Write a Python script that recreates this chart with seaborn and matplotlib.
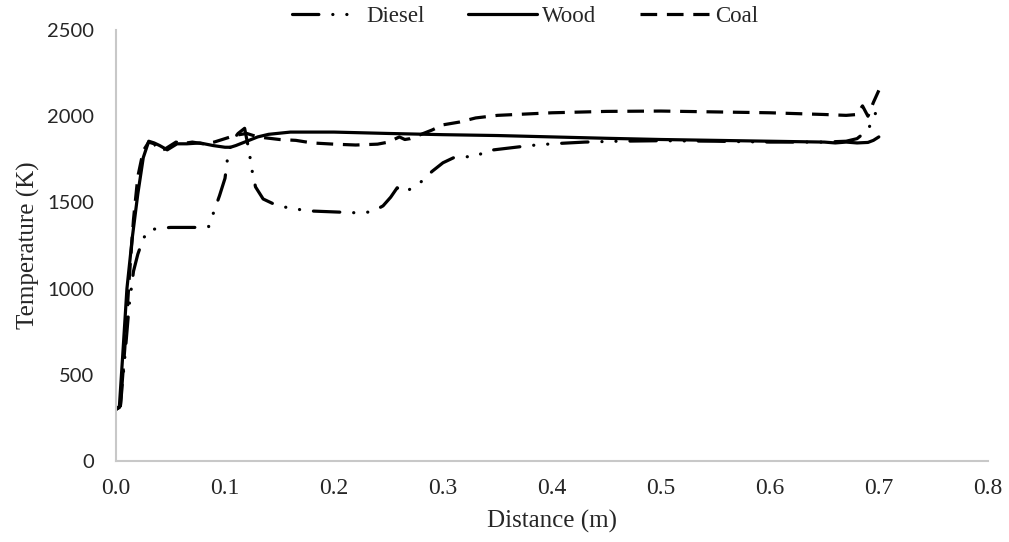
import numpy as np
import pandas as pd
import matplotlib
matplotlib.use("Agg")
import matplotlib.pyplot as plt
import seaborn as sns

# ---- data ----
diesel_x = [0, 0.004, 0.008, 0.012, 0.016, 0.02, 0.025, 0.03, 0.04, 0.05, 0.06, 0.07, 0.08,
            0.085, 0.09, 0.095, 0.1, 0.103, 0.107, 0.112, 0.118, 0.122, 0.125, 0.128, 0.135,
            0.145, 0.16, 0.18, 0.2, 0.22, 0.235, 0.245, 0.252, 0.258, 0.263, 0.268, 0.273,
            0.28, 0.29, 0.3, 0.31, 0.32, 0.33, 0.34, 0.36, 0.38, 0.4, 0.43, 0.46, 0.5, 0.55,
            0.6, 0.65, 0.67, 0.68, 0.69, 0.695, 0.7]
diesel_y = [300, 320, 600, 900, 1100, 1200, 1290, 1340, 1350, 1355, 1355, 1355, 1355,
            1360, 1450, 1540, 1640, 1790, 1860, 1900, 1930, 1800, 1680, 1590, 1520,
            1490, 1465, 1450, 1445, 1440, 1445, 1480, 1530, 1585, 1560, 1570, 1590,
            1620, 1680, 1730, 1760, 1765, 1765, 1800, 1815, 1830, 1840, 1850, 1855, 1858, 1855,
            1850, 1850, 1855, 1870, 1920, 1990, 2060]

wood_x = [0, 0.003, 0.006, 0.01, 0.015, 0.02, 0.025, 0.03, 0.035, 0.04, 0.047, 0.056, 0.065,
          0.077, 0.089, 0.1, 0.105, 0.11, 0.12, 0.13, 0.14, 0.16, 0.2, 0.25, 0.3, 0.35,
          0.4, 0.45, 0.5, 0.55, 0.6, 0.65, 0.66, 0.67, 0.68, 0.69, 0.695, 0.7]
wood_y = [300, 310, 600, 1000, 1300, 1550, 1760, 1855, 1845, 1830, 1805, 1840, 1840,
          1845, 1830, 1820, 1820, 1830, 1855, 1880, 1895, 1908, 1908, 1900, 1893, 1888,
          1880, 1872, 1865, 1860, 1855, 1850, 1845, 1850, 1845, 1848, 1860, 1880]

coal_x = [0, 0.004, 0.008, 0.012, 0.016, 0.02, 0.025, 0.03, 0.035, 0.04, 0.045, 0.05, 0.055,
          0.06, 0.07, 0.08, 0.09, 0.1, 0.11, 0.12, 0.13, 0.15, 0.165, 0.18, 0.2, 0.22,
          0.24, 0.25, 0.26, 0.265, 0.27, 0.28, 0.29, 0.3, 0.315, 0.33, 0.35, 0.4, 0.45,
          0.5, 0.55, 0.6, 0.65, 0.67, 0.68, 0.685, 0.69, 0.695, 0.7]
coal_y = [300, 320, 650, 1050, 1400, 1650, 1800, 1850, 1840, 1800, 1810, 1830, 1850,
          1840, 1850, 1840, 1850, 1870, 1890, 1900, 1880, 1865, 1860, 1845, 1838, 1833,
          1838, 1850, 1880, 1865, 1870, 1895, 1920, 1950, 1966, 1990, 2005, 2020, 2028,
          2030, 2025, 2020, 2010, 2005, 2010, 2060, 2000, 2080, 2150]

series_names = ["Diesel", "Wood", "Coal"]
x_ticks = [0.0, 0.1, 0.2, 0.3, 0.4, 0.5, 0.6, 0.7, 0.8]
y_ticks = [0, 500, 1000, 1500, 2000, 2500]

frames = []
for name, xs, ys in zip(series_names, [diesel_x, wood_x, coal_x], [diesel_y, wood_y, coal_y]):
    frames.append(pd.DataFrame({"Distance": xs, "Temperature": ys, "Fuel": name}))
df = pd.concat(frames, ignore_index=True)

# ---- style ----
sns.set_theme(style="white")
plt.rcParams["lines.scale_dashes"] = False

serif = ["Liberation Serif", "DejaVu Serif"]

fig = plt.figure(figsize=(10.09, 5.42), dpi=100)
ax = fig.add_axes([0.115, 0.1494, 0.979 - 0.115, 0.9446 - 0.1494])

styles = {
    "Diesel": dict(linestyle=(0, (19, 10, 0.1, 10, 0.1, 10)), dash_capstyle="round"),
    "Wood": dict(linestyle="-"),
    "Coal": dict(linestyle=(0, (12, 7)), dash_capstyle="butt"),
}

for name in series_names:
    sub = df[df["Fuel"] == name]
    sns.lineplot(data=sub, x="Distance", y="Temperature", ax=ax, color="black",
                 linewidth=2.3, estimator=None, sort=False, label=name, **styles[name])

ax.set_xlim(0, 0.8)
ax.set_ylim(0, 2500)
ax.set_xticks(x_ticks)
ax.set_xticklabels([f"{v:.1f}" for v in x_ticks], fontfamily=serif, fontsize=17)
ax.set_yticks(y_ticks)
ax.set_yticklabels([str(v) for v in y_ticks], fontfamily="Lato", fontsize=14.5)
ax.tick_params(axis="x", length=0, pad=12)
ax.tick_params(axis="y", length=0, pad=16)

for s in ["top", "right"]:
    ax.spines[s].set_visible(False)
for s in ["left", "bottom"]:
    ax.spines[s].set_color("#c8c8c8")
    ax.spines[s].set_linewidth(1.5)

ax.grid(False)
ax.set_xlabel("Distance (m)", fontfamily=serif, fontsize=18)
ax.set_ylabel("Temperature (K)", fontfamily=serif, fontsize=18)
ax.xaxis.set_label_coords(0.5, -0.113)
ax.yaxis.set_label_coords(-0.087, 0.5)

ax.legend(loc="center", bbox_to_anchor=(0.52, 0.97), bbox_transform=fig.transFigure,
          ncol=3, frameon=False, handlelength=3.0, handletextpad=0.25,
          columnspacing=1.9, borderaxespad=0,
          prop={"family": serif, "size": 16.5})

fig.savefig("out.png", dpi=100)
